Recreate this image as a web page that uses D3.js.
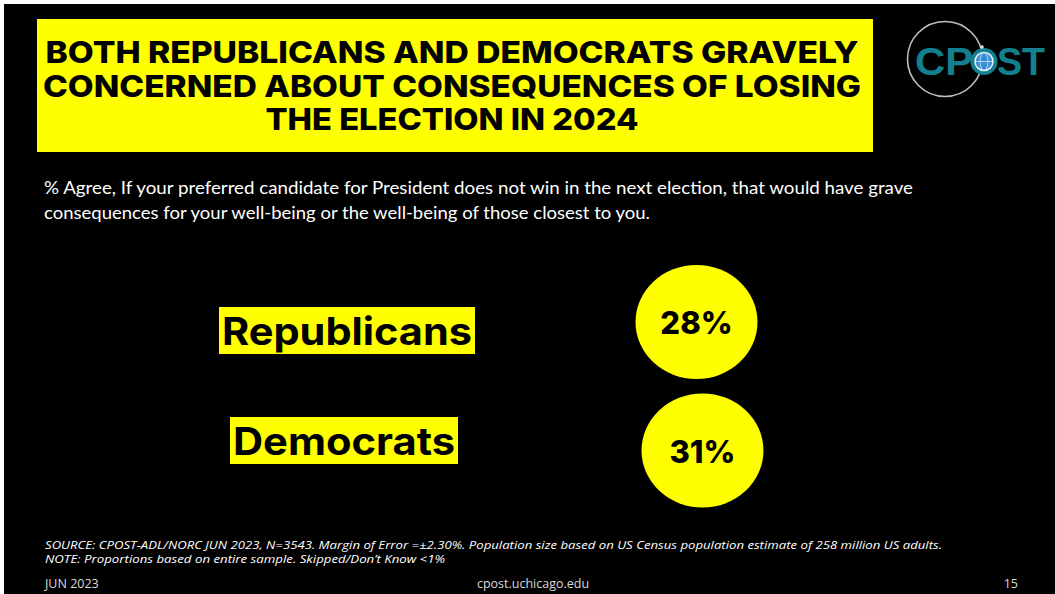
<!DOCTYPE html>
<html><head><meta charset="utf-8">
<script src="https://cdn.jsdelivr.net/npm/d3@7"></script>
<style>html,body{margin:0;padding:0;background:#fff;}svg{display:block;}</style>
</head><body>
<script>
const titleLines = ["BOTH REPUBLICANS AND DEMOCRATS GRAVELY", "CONCERNED ABOUT CONSEQUENCES OF LOSING", "THE ELECTION IN 2024"];
const subtitleLines = ["% Agree, If your preferred candidate for President does not win in the next election, that would have grave", "consequences for your well-being or the well-being of those closest to you."];
const categories = ["Republicans", "Democrats"];
const values = [28, 31];
const footnotes = ["SOURCE: CPOST-ADL/NORC JUN 2023, N=3543. Margin of Error =±2.30%. Population size based on US Census population estimate of 258 million US adults.", "NOTE: Proportions based on entire sample. Skipped/Don’t Know <1%"];

const W = 1055, H = 594;
const svg = d3.select("body").append("svg").attr("width", W).attr("height", H);
svg.append("rect").attr("width", W).attr("height", H).attr("fill", "#fff");
svg.append("rect").attr("x", 4).attr("y", 4).attr("width", W - 4).attr("height", H - 4).attr("fill", "#000");

const YEL = "#ffff00";
const boldFont = "Inter, 'Open Sans', sans-serif";

// Title
svg.append("rect").attr("x", 37).attr("y", 19).attr("width", 836).attr("height", 133).attr("fill", YEL);
const titleW = [813, 818, 373];
svg.selectAll("text.title").data(titleLines).join("text")
  .attr("class", "title")
  .attr("x", 452).attr("y", (d, i) => 63 + i * 33.5)
  .attr("text-anchor", "middle")
  .attr("font-family", boldFont).attr("font-weight", 800).attr("font-size", 30)
  .attr("textLength", (d, i) => titleW[i]).attr("lengthAdjust", "spacingAndGlyphs")
  .attr("fill", "#000").text(d => d);

// Logo
const TEAL = "#13808f";
const logo = svg.append("g");
logo.append("circle").attr("cx", 945).attr("cy", 59).attr("r", 37.5).attr("fill", "none").attr("stroke", "#bfbfbf").attr("stroke-width", 1.6);
logo.append("text").attr("x", 915).attr("y", 75).attr("font-family", "'Liberation Sans', Arial, sans-serif").attr("font-weight", 700)
  .attr("font-size", 38).attr("fill", TEAL).attr("textLength", 58).attr("lengthAdjust", "spacingAndGlyphs").text("CP");
logo.append("text").attr("x", 997).attr("y", 75).attr("font-family", "'Liberation Sans', Arial, sans-serif").attr("font-weight", 700)
  .attr("font-size", 38).attr("fill", TEAL).attr("textLength", 48).attr("lengthAdjust", "spacingAndGlyphs").text("ST");
logo.append("circle").attr("cx", 984).attr("cy", 61.5).attr("r", 13.5).attr("fill", TEAL);
logo.append("circle").attr("cx", 984).attr("cy", 61.5).attr("r", 9).attr("fill", "#3a8fd0").attr("stroke", "#e8f4ff").attr("stroke-width", 1.5);
logo.append("ellipse").attr("cx", 984).attr("cy", 61.5).attr("rx", 4).attr("ry", 9).attr("fill", "none").attr("stroke", "#cfe6ff").attr("stroke-width", 0.8);
logo.append("line").attr("x1", 975).attr("x2", 993).attr("y1", 61.5).attr("y2", 61.5).attr("stroke", "#cfe6ff").attr("stroke-width", 0.8);
logo.append("circle").attr("cx", 982).attr("cy", 47).attr("r", 1.8).attr("fill", "#ddd");

// Subtitle
svg.selectAll("text.sub").data(subtitleLines).join("text")
  .attr("class", "sub").attr("x", 44).attr("y", (d, i) => 194 + i * 25)
  .attr("font-family", "Lato, 'Open Sans', sans-serif").attr("font-size", 16.5).attr("fill", "#fff")
  .attr("textLength", (d, i) => [869, 606][i]).attr("lengthAdjust", "spacingAndGlyphs")
  .text(d => d);

// Rows
const yLabel = d3.scalePoint().domain(categories).range([327, 437]);
const yCircle = d3.scalePoint().domain(categories).range([322, 450.5]);
const xLabel = d3.scalePoint().domain(categories).range([347, 344]);
const xCircle = d3.scalePoint().domain(categories).range([696.5, 702.5]);
const labelW = [256, 228];
const data = categories.map((c, i) => ({ c, v: values[i], w: labelW[i] }));

const rows = svg.selectAll("g.row").data(data).join("g").attr("class", "row");
rows.append("rect")
  .attr("x", d => xLabel(d.c) - d.w / 2).attr("y", d => yLabel(d.c) - 20)
  .attr("width", d => d.w).attr("height", 47).attr("fill", YEL);
rows.append("text")
  .attr("x", d => xLabel(d.c)).attr("y", d => yLabel(d.c) + 18)
  .attr("text-anchor", "middle").attr("font-family", boldFont).attr("font-weight", 700)
  .attr("font-size", 38).attr("fill", "#000")
  .attr("textLength", d => d.w - 6).attr("lengthAdjust", "spacingAndGlyphs")
  .text(d => d.c);
rows.append("ellipse")
  .attr("cx", d => xCircle(d.c)).attr("cy", d => yCircle(d.c))
  .attr("rx", 61).attr("ry", 57).attr("fill", YEL);
rows.append("text")
  .attr("x", d => xCircle(d.c)).attr("y", d => yCircle(d.c) + 12)
  .attr("text-anchor", "middle").attr("font-family", boldFont).attr("font-weight", 800)
  .attr("font-size", 31).attr("fill", "#000")
  .text(d => d.v + "%");

// Footnotes
svg.selectAll("text.foot").data(footnotes).join("text")
  .attr("class", "foot").attr("x", 45).attr("y", (d, i) => 549 + i * 14)
  .attr("font-family", "'Open Sans', sans-serif").attr("font-style", "italic").attr("font-size", 10.5)
  .attr("fill", "#fff").attr("textLength", (d, i) => [897, 400][i]).attr("lengthAdjust", "spacingAndGlyphs")
  .text(d => d);

const bottom = [["JUN 2023", 45, "start"], ["cpost.uchicago.edu", 533, "middle"], ["15", 1018, "end"]];
svg.selectAll("text.bot").data(bottom).join("text")
  .attr("class", "bot").attr("x", d => d[1]).attr("y", 588).attr("text-anchor", d => d[2])
  .attr("font-family", "'Open Sans', sans-serif").attr("font-size", 12.5).attr("fill", "#d9d9d9")
  .text(d => d[0]);
</script>
</body></html>
